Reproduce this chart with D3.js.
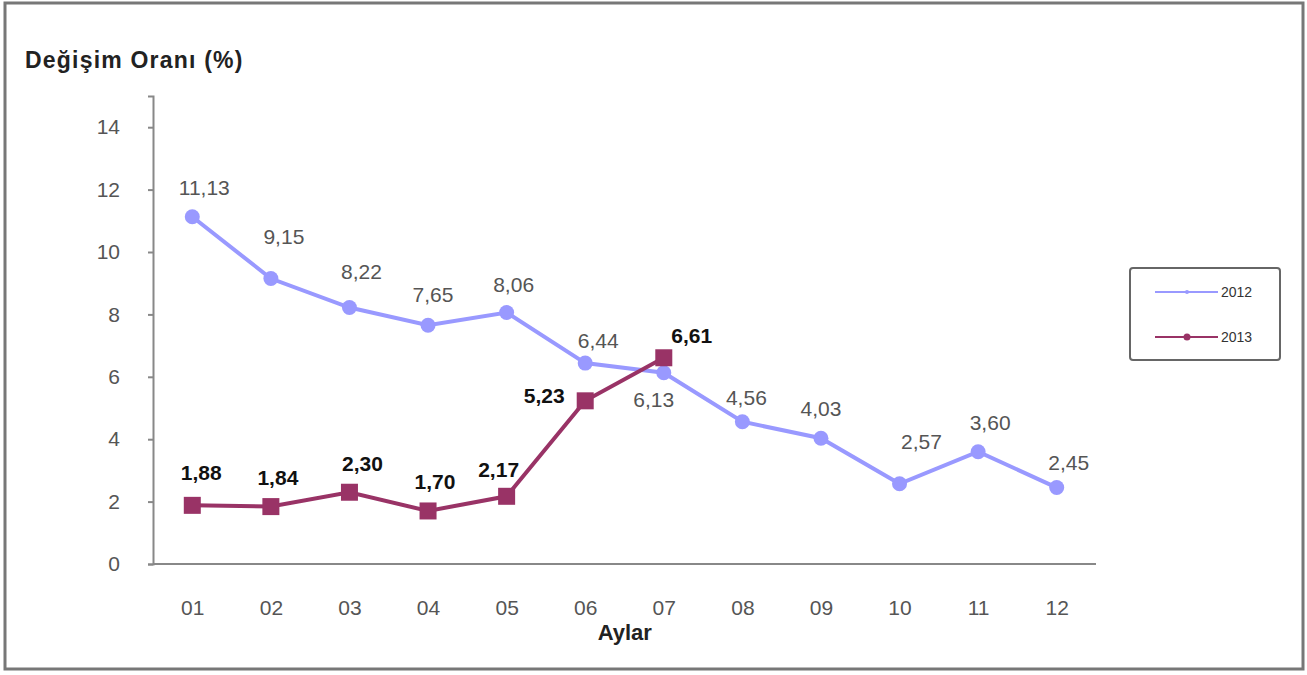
<!DOCTYPE html>
<html>
<head>
<meta charset="utf-8">
<script src="https://cdn.jsdelivr.net/npm/d3@7"></script>
<style>
body { margin: 0; background: #fff; }
svg text { font-family: "Liberation Sans", Arial, sans-serif; }
</style>
</head>
<body>
<div id="entry"></div>
<script>
// data
var months = ['01', '02', '03', '04', '05', '06', '07', '08', '09', '10', '11', '12'];
var rates2012 = [11.13, 9.15, 8.22, 7.65, 8.06, 6.44, 6.13, 4.56, 4.03, 2.57, 3.60, 2.45];
var rates2013 = [1.88, 1.84, 2.30, 1.70, 2.17, 5.23, 6.61];
var yTicks = [0, 2, 4, 6, 8, 10, 12, 14];

var W = 1307, H = 675;
var margin = {top: 96, left: 153, right: 211, bottom: 111};
var width = W - margin.left - margin.right,
    height = H - margin.top - margin.bottom;

var c2012 = '#9999ff', c2013 = '#993366';

// where each value label sits relative to its point (label centre, px)
var labelPos12 = [[12, -29], [13, -42], [12, -36], [5, -31], [7, -28], [13, -23],
                  [-10, 27], [4, -24], [0, -30], [22, -42], [12, -29], [12, -25]];
var labelPos13 = [[9, -33], [7, -29], [13, -29], [7, -29], [-8, -27], [-41, -5], [28, -22]];

var svg = d3.select('#entry').append('svg')
  .attr('width', W)
  .attr('height', H);

// outer frame
svg.append('rect')
  .attr('x', 5).attr('y', 3).attr('width', W - 9).attr('height', H - 9)
  .attr('fill', 'none').attr('stroke', '#777').attr('stroke-width', 3);

svg.append('text')
  .attr('x', 25).attr('y', 68)
  .attr('font-size', 23).attr('font-weight', 'bold').attr('fill', '#222')
  .attr('letter-spacing', 1.2)
  .text('Değişim Oranı (%)');

var g = svg.append('g')
  .attr('transform', 'translate(' + margin.left + ',' + margin.top + ')');

var x = d3.scalePoint().domain(months).range([0, width]).padding(0.5);
var y = d3.scaleLinear().domain([0, 15]).range([height, 0]);

var yAxis = d3.axisLeft(y).tickValues(yTicks).tickSize(5).tickPadding(28);
var xAxis = d3.axisBottom(x).tickSize(0).tickPadding(36);

var gy = g.append('g').call(yAxis);
var gx = g.append('g').attr('transform', 'translate(0,' + height + ')').call(xAxis);

[gx, gy].forEach(function(a) {
  a.select('.domain').attr('stroke', '#888').attr('stroke-width', 2);
  a.selectAll('.tick line').attr('stroke', '#888').attr('stroke-width', 2);
  a.selectAll('.tick text').attr('fill', '#555').attr('font-size', 21)
    .style('font-family', '"Liberation Sans", Arial, sans-serif');
});
gx.select('.domain').attr('d', 'M0,0H' + width);

g.append('text')
  .attr('x', x('07') - 39).attr('y', height + 76)
  .attr('text-anchor', 'middle')
  .attr('font-size', 22).attr('font-weight', 'bold').attr('fill', '#222')
  .text('Aylar');

var line = d3.line()
  .x(function(d, i) { return x(months[i]); })
  .y(function(d) { return y(d); });

g.append('path').datum(rates2012)
  .attr('d', line).attr('fill', 'none')
  .attr('stroke', c2012).attr('stroke-width', 4);

g.selectAll('.p12').data(rates2012).enter().append('circle')
  .attr('cx', function(d, i) { return x(months[i]); })
  .attr('cy', function(d) { return y(d); })
  .attr('r', 7.5).attr('fill', c2012);

g.append('path').datum(rates2013)
  .attr('d', line).attr('fill', 'none')
  .attr('stroke', c2013).attr('stroke-width', 4);

g.selectAll('.p13').data(rates2013).enter().append('rect')
  .attr('x', function(d, i) { return x(months[i]) - 8.5; })
  .attr('y', function(d) { return y(d) - 8.5; })
  .attr('width', 17).attr('height', 17).attr('fill', c2013);

function fmt(v) { return v.toFixed(2).replace('.', ','); }

// value labels 2012
g.selectAll('.l12').data(rates2012).enter().append('text')
  .attr('x', function(d, i) { return x(months[i]) + labelPos12[i][0]; })
  .attr('y', function(d, i) { return y(d) + labelPos12[i][1] + 7.5; })
  .attr('text-anchor', 'middle')
  .attr('font-size', 21).attr('fill', '#555')
  .text(fmt);

// value labels 2013
g.selectAll('.l13').data(rates2013).enter().append('text')
  .attr('x', function(d, i) { return x(months[i]) + labelPos13[i][0]; })
  .attr('y', function(d, i) { return y(d) + labelPos13[i][1] + 7.5; })
  .attr('text-anchor', 'middle')
  .attr('font-size', 21).attr('font-weight', 'bold').attr('fill', '#111')
  .text(fmt);

// legend
var lg = svg.append('g').attr('transform', 'translate(1130,268)');
lg.append('rect').attr('width', 150).attr('height', 92).attr('rx', 3)
  .attr('fill', '#fff').attr('stroke', '#666').attr('stroke-width', 2);
var legendItems = [{name: '2012', c: c2012, y: 24}, {name: '2013', c: c2013, y: 69}];
legendItems.forEach(function(it) {
  lg.append('line').attr('x1', 25).attr('x2', 88).attr('y1', it.y).attr('y2', it.y)
    .attr('stroke', it.c).attr('stroke-width', 2);
  lg.append('circle').attr('cx', 57).attr('cy', it.y).attr('r', it.name === '2012' ? 2 : 3.5).attr('fill', it.c);
  lg.append('text').attr('x', 91).attr('y', it.y + 5).attr('font-size', 14).attr('fill', '#333').text(it.name);
});
</script>
</body>
</html>
